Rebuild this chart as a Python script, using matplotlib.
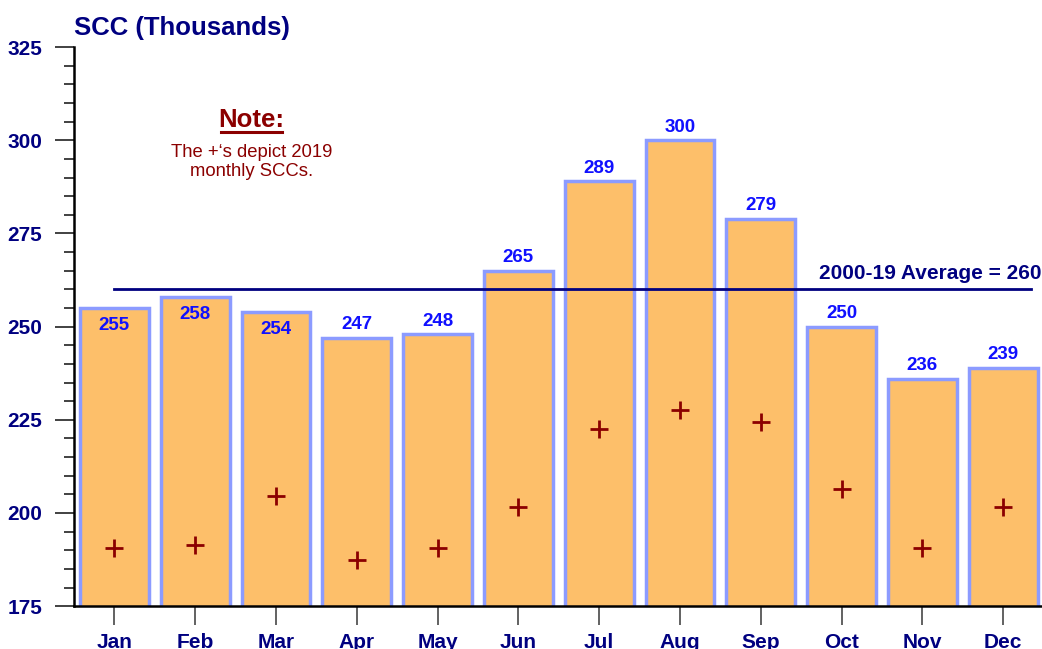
import matplotlib
matplotlib.use('Agg')
import matplotlib.pyplot as plt
import numpy as np

plt.rcParams['font.family'] = ['Liberation Sans', 'DejaVu Sans']

# monthly SCC data (thousands)
months = ['Jan', 'Feb', 'Mar', 'Apr', 'May', 'Jun',
          'Jul', 'Aug', 'Sep', 'Oct', 'Nov', 'Dec']
avg_scc = [255, 258, 254, 247, 248, 265, 289, 300, 279, 250, 236, 239]
scc_2019 = [190.5, 191.5, 204.5, 187.5, 190.5, 201.5,
            222.5, 227.5, 224.5, 206.5, 190.5, 201.5]
overall_avg = 260
inside_labels = ['Jan', 'Feb', 'Mar']  # labels that sit under the average line

navy = '#000080'
fig = plt.figure(figsize=(10.42, 6.49), dpi=100)
ax = fig.add_axes([0.071, 0.066, 0.929, 0.8615])

x = np.arange(len(months))
ax.bar(x, avg_scc, width=0.85, color='#FDBF6A', edgecolor='#8C9BFF',
       linewidth=2.5, zorder=2)
ax.plot(x, scc_2019, linestyle='none', marker='+', markersize=13,
        markeredgewidth=2, color='#8B0000', zorder=4)

# average line
ax.plot([0, 11.35], [overall_avg, overall_avg], color=navy, lw=2, zorder=3)
ax.text(11.47, overall_avg + 1.8, '2000-19 Average = %d' % overall_avg,
        ha='right', va='bottom', fontsize=15, fontweight='bold', color=navy)

# value labels
for xi, m, v in zip(x, months, avg_scc):
    if m in inside_labels:
        ax.text(xi, v - 2.4, str(v), ha='center', va='top', fontsize=13.5,
                fontweight='bold', color='#1010FF', zorder=5)
    else:
        ax.text(xi, v + 1.2, str(v), ha='center', va='bottom', fontsize=13.5,
                fontweight='bold', color='#1010FF', zorder=5)

# note
ax.text(1.7, 305.4, 'Note:', ha='center', va='center', fontsize=18.5,
        fontweight='bold', color='#8B0000')
ax.plot([1.32, 2.08], [302.3, 302.3], color='#8B0000', lw=2.2, clip_on=False)
ax.text(1.7, 299.0, "The +\u2018s depict 2019\nmonthly SCCs.", ha='center',
        va='top', fontsize=13.3, color='#8B0000', linespacing=1.15)

ax.set_xlim(-0.5, 11.48)
ax.set_ylim(175, 325)
ax.set_yticks(np.arange(175, 326, 25))
ax.set_yticks(np.arange(175, 326, 5), minor=True)
ax.set_xticks(x)
ax.set_xticklabels(months)
for lbl in ax.get_xticklabels() + ax.get_yticklabels():
    lbl.set_fontweight('bold')
    lbl.set_color(navy)
    lbl.set_fontsize(15)

ax.tick_params(axis='y', which='major', length=14, width=1.3, color='#333333', pad=9)
ax.tick_params(axis='y', which='minor', length=7, width=1.3, color='#333333')
ax.tick_params(axis='x', length=14, width=1.3, color='#555555', pad=5)
ax.spines['top'].set_visible(False)
ax.spines['right'].set_visible(False)
ax.spines['left'].set_linewidth(1.8)
ax.spines['bottom'].set_linewidth(1.8)
ax.spines['left'].set_zorder(6)
ax.spines['bottom'].set_zorder(6)

fig.text(0.071, 0.957, 'SCC (Thousands)', ha='left', va='center',
         fontsize=18.5, fontweight='bold', color=navy)

fig.savefig('out.png', dpi=100)
